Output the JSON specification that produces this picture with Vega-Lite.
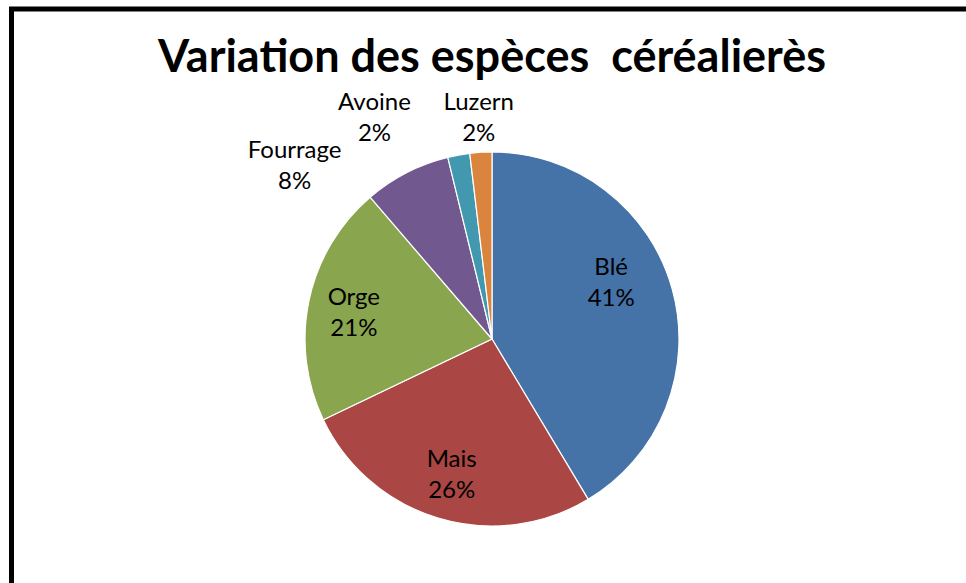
{
  "$schema": "https://vega.github.io/schema/vega-lite/v6.json",
  "autosize": "none",
  "width": 961,
  "height": 660,
  "padding": {"left": 11.5, "top": 9, "right": 0, "bottom": 0},
  "background": "white",
  "view": {"stroke": "black", "strokeWidth": 5},
  "config": {
    "view": {"stroke": "black", "strokeWidth": 5},
    "text": {"font": "Lato", "fontSize": 24, "lineBreak": "\n", "lineHeight": 31, "fill": "black"}
  },
  "title": {
    "text": "Variation des espèces\u00a0 céréalierès",
    "font": "Lato",
    "fontSize": 45,
    "fontWeight": "bold",
    "color": "black",
    "anchor": "middle",
    "offset": -72
  },
  "data": {
    "values": [
      {"idx": 1, "cat": "Blé", "value": 41.4, "label": "Blé\n41%"},
      {"idx": 2, "cat": "Mais", "value": 26.5, "label": "Mais\n26%"},
      {"idx": 3, "cat": "Orge", "value": 20.8, "label": "Orge\n21%"},
      {"idx": 4, "cat": "Fourrage", "value": 7.5, "label": "Fourrage\n8%"},
      {"idx": 5, "cat": "Avoine", "value": 1.9, "label": "Avoine\n2%"},
      {"idx": 6, "cat": "Luzern", "value": 1.9, "label": "Luzern\n2%"}
    ]
  },
  "encoding": {
    "theta": {"field": "value", "type": "quantitative", "stack": true},
    "order": {"field": "idx", "type": "quantitative"}
  },
  "layer": [
    {
      "mark": {"type": "arc", "outerRadius": 187, "stroke": "white", "strokeWidth": 1.2},
      "encoding": {
        "color": {
          "field": "cat",
          "type": "nominal",
          "sort": null,
          "legend": null,
          "scale": {
            "domain": ["Blé", "Mais", "Orge", "Fourrage", "Avoine", "Luzern"],
            "range": ["#4572A7", "#AA4643", "#89A54E", "#71588F", "#4198AF", "#DB843D"]
          }
        }
      }
    },
    {
      "mark": {"type": "text", "radius": 133, "dx": -9, "dy": -36},
      "encoding": {"text": {"condition": {"test": "datum.cat === 'Blé'", "field": "label"}, "value": ""}}
    },
    {
      "mark": {"type": "text", "radius": 133, "dx": -2, "dy": -6},
      "encoding": {"text": {"condition": {"test": "datum.cat === 'Mais'", "field": "label"}, "value": ""}}
    },
    {
      "mark": {"type": "text", "radius": 133, "dx": -8, "dy": -14},
      "encoding": {"text": {"condition": {"test": "datum.cat === 'Orge'", "field": "label"}, "value": ""}}
    },
    {
      "mark": {"type": "text", "radius": 222, "dx": -96, "dy": 9},
      "encoding": {"text": {"condition": {"test": "datum.cat === 'Fourrage'", "field": "label"}, "value": ""}}
    },
    {
      "mark": {"type": "text", "radius": 222, "dx": -78, "dy": -18},
      "encoding": {"text": {"condition": {"test": "datum.cat === 'Avoine'", "field": "label"}, "value": ""}}
    },
    {
      "mark": {"type": "text", "radius": 222, "dx": 0, "dy": -14},
      "encoding": {"text": {"condition": {"test": "datum.cat === 'Luzern'", "field": "label"}, "value": ""}}
    }
  ]
}
